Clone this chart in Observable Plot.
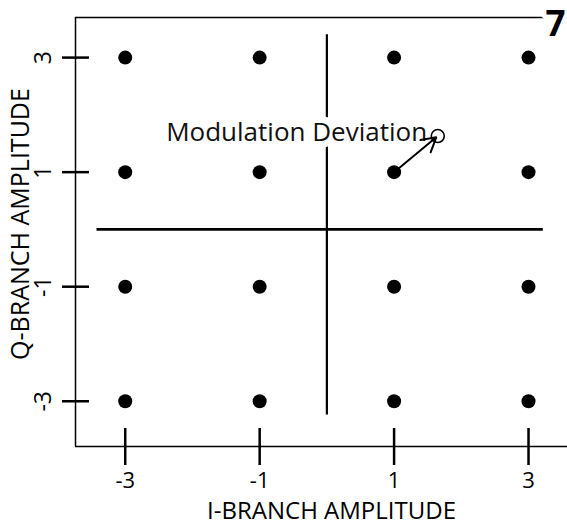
<!DOCTYPE html>
<html>
<head>
<meta charset="utf-8">
<script src="https://cdn.jsdelivr.net/npm/d3@7"></script>
<script src="https://cdn.jsdelivr.net/npm/@observablehq/plot@0.6"></script>
<style>
  html, body { margin: 0; padding: 0; background: #fff; }
  #chart svg { display: block; }
</style>
</head>
<body>
<div id="chart"></div>
<script>
// ---- data ----
const iLevels = [-3, -1, 1, 3];          // I-branch constellation levels
const qLevels = [-3, -1, 1, 3];          // Q-branch constellation levels
const xTickValues = [-3, -1, 1, 3];
const yTickValues = [-3, -1, 1, 3];
const xDomain = [-3.74, 3.58];
const yDomain = [-3.79, 3.70];
const crossX = [-3.42, 3.22];            // extent of the horizontal (I) reference line
const crossY = [-3.24, 3.40];            // extent of the vertical (Q) reference line
const deviationFrom = [1, 1];            // ideal symbol
const deviationTo = [1.65, 1.63];        // deviated symbol (open circle)
const annotationText = "Modulation Deviation";
const annotationPos = [-0.45, 1.69];
const xTitle = "I-BRANCH AMPLITUDE";
const yTitle = "Q-BRANCH AMPLITUDE";
const figureNumber = "7";

// table built from the arrays
const points = iLevels.flatMap(i => qLevels.map(q => ({i, q})));
const arrowRow = [{x1: deviationFrom[0], y1: deviationFrom[1], x2: deviationTo[0], y2: deviationTo[1]}];

const FONT = "'Open Sans', 'DejaVu Sans', sans-serif";

const chart = Plot.plot({
  width: 567,
  height: 526,
  marginLeft: 75,
  marginRight: 0,
  marginTop: 17,
  marginBottom: 80,
  style: {background: "white", fontFamily: FONT, color: "black", overflow: "visible"},
  x: {domain: xDomain, axis: null},
  y: {domain: yDomain, axis: null},
  marks: [
    // frame: left, bottom, top
    Plot.ruleX([xDomain[0]], {stroke: "black", strokeWidth: 1.5}),
    Plot.ruleY([yDomain[0]], {stroke: "black", strokeWidth: 1.5}),
    Plot.ruleY([yDomain[1]], {stroke: "black", strokeWidth: 1.5}),
    // crossing tick marks
    Plot.ruleX(xTickValues, {x: d => d, y1: yDomain[0], y2: yDomain[0], insetTop: 19, insetBottom: 18, stroke: "black", strokeWidth: 2.5}),
    Plot.ruleY(yTickValues, {y: d => d, x1: xDomain[0], x2: xDomain[0], insetLeft: 14, insetRight: 13, stroke: "black", strokeWidth: 2.5}),
    // tick labels
    Plot.text(xTickValues, {x: d => d, frameAnchor: "bottom", dy: 34, text: d => String(d), lineAnchor: "middle", fontSize: 22}),
    Plot.text(yTickValues, {y: d => d, frameAnchor: "left", dx: -32, rotate: -90, text: d => String(d), textAnchor: "middle", lineAnchor: "middle", fontSize: 23}),
    // axis titles
    Plot.text([xTitle], {frameAnchor: "bottom", dx: 10, dy: 65, lineAnchor: "middle", fontSize: 24}),
    Plot.text([yTitle], {frameAnchor: "left", dx: -55, dy: -8, rotate: -90, textAnchor: "middle", lineAnchor: "middle", fontSize: 25}),
    // crosshair
    Plot.ruleY([0], {x1: crossX[0], x2: crossX[1], stroke: "black", strokeWidth: 2.8}),
    Plot.ruleX([0], {y1: crossY[0], y2: crossY[1], stroke: "black", strokeWidth: 2.2}),
    // annotation label with white background halo
    Plot.text([annotationText], {x: annotationPos[0], y: annotationPos[1], fontSize: 26, lineAnchor: "middle", textAnchor: "middle", fill: "#111", stroke: "white", strokeWidth: 14, strokeLinejoin: "round"}),
    // constellation points
    Plot.dot(points, {x: "i", y: "q", r: 7, fill: "black", stroke: "none"}),
    // deviation arrow and circle
    Plot.arrow(arrowRow, {x1: "x1", y1: "y1", x2: "x2", y2: "y2", stroke: "black", strokeWidth: 2, headLength: 12, insetEnd: 2}),
    Plot.dot([deviationTo], {x: d => d[0], y: d => d[1], r: 6.5, fill: "none", stroke: "black", strokeWidth: 1.6}),
    // figure number
    Plot.text([figureNumber], {frameAnchor: "top-right", textAnchor: "end", lineAnchor: "top", dx: -2, dy: -6, fontSize: 35, fontWeight: "bold", fill: "black", stroke: "white", strokeWidth: 10})
  ]
});
document.getElementById("chart").appendChild(chart);
</script>
</body>
</html>
